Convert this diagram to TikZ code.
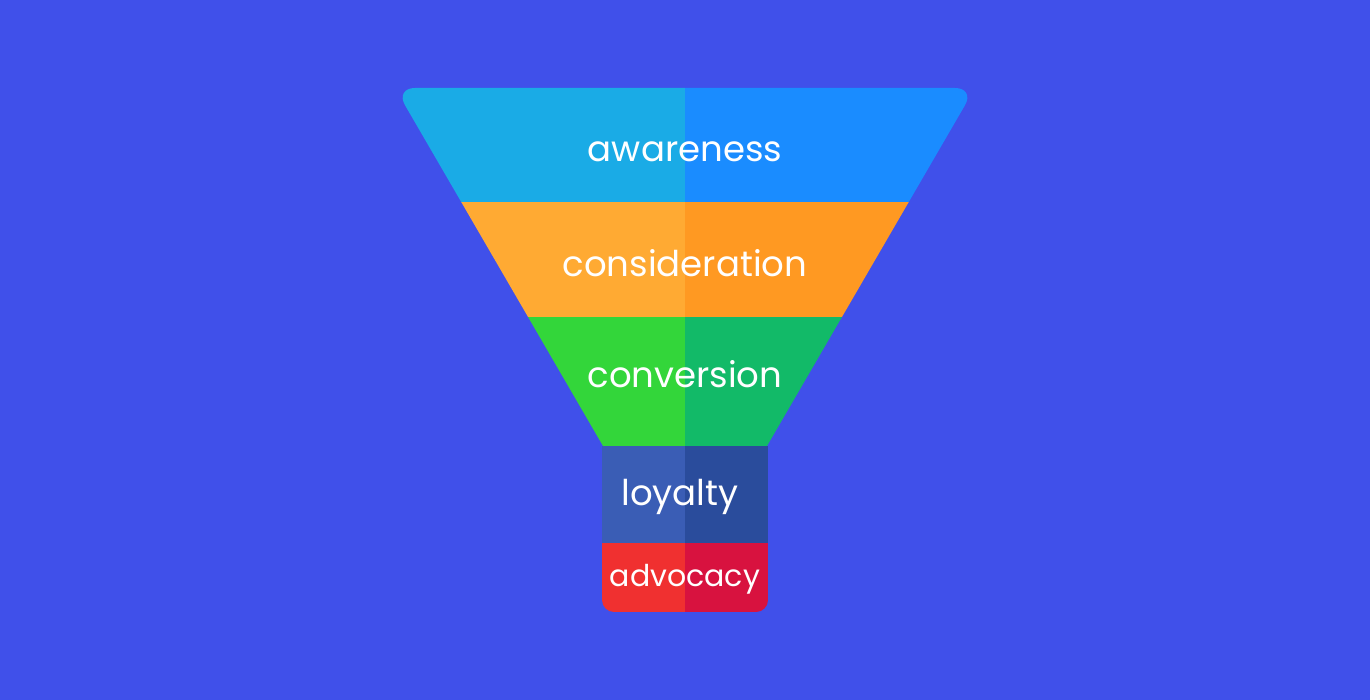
\documentclass[tikz,border=0pt]{standalone}
\usepackage{fontspec}
\setmainfont{Poppins}
\definecolor{bg}{RGB}{64,80,234}
\definecolor{awL}{RGB}{26,171,230}
\definecolor{awR}{RGB}{26,140,255}
\definecolor{coL}{RGB}{255,170,51}
\definecolor{coR}{RGB}{255,153,34}
\definecolor{cvL}{RGB}{51,214,58}
\definecolor{cvR}{RGB}{18,186,104}
\definecolor{loL}{RGB}{58,93,181}
\definecolor{loR}{RGB}{42,76,156}
\definecolor{adL}{RGB}{240,48,48}
\definecolor{adR}{RGB}{216,18,63}
\begin{document}
\begin{tikzpicture}[x=1pt,y=-1pt,
  lbl/.style={text=white, inner sep=0pt, font=\fontsize{35.5}{40}\selectfont},
  lblsmall/.style={text=white, inner sep=0pt, font=\fontsize{30}{34}\selectfont}]
\useasboundingbox (0,0) rectangle (1370,700);
\fill[bg] (0,0) rectangle (1370,700);
\begin{scope}
  \clip[rounded corners=20pt] (395,88) -- (975,88) -- (724,520) -- (646,520) -- cycle;
  \fill[awL] (380,80) rectangle (685,202);
  \fill[awR] (685,80) rectangle (990,202);
  \fill[coL] (380,202) rectangle (685,317);
  \fill[coR] (685,202) rectangle (990,317);
  \fill[cvL] (380,317) rectangle (685,446);
  \fill[cvR] (685,317) rectangle (990,446);
\end{scope}
\begin{scope}
  \clip[rounded corners=12pt] (602,420) rectangle (768,612);
  \fill[loL] (602,446) rectangle (685,543);
  \fill[loR] (685,446) rectangle (768,543);
  \fill[adL] (602,543) rectangle (685,612);
  \fill[adR] (685,543) rectangle (768,612);
\end{scope}
\node[lbl] (aw) at (685,152) {awareness};
\node[lbl] (co) at (685,263) {consideration};
\node[lbl] (cv) at (685,374) {conversion};
\node[lbl] (lo) at (680,497) {loyalty};
\node[lblsmall] (ad) at (685,579) {advocacy};
\end{tikzpicture}
\end{document}
